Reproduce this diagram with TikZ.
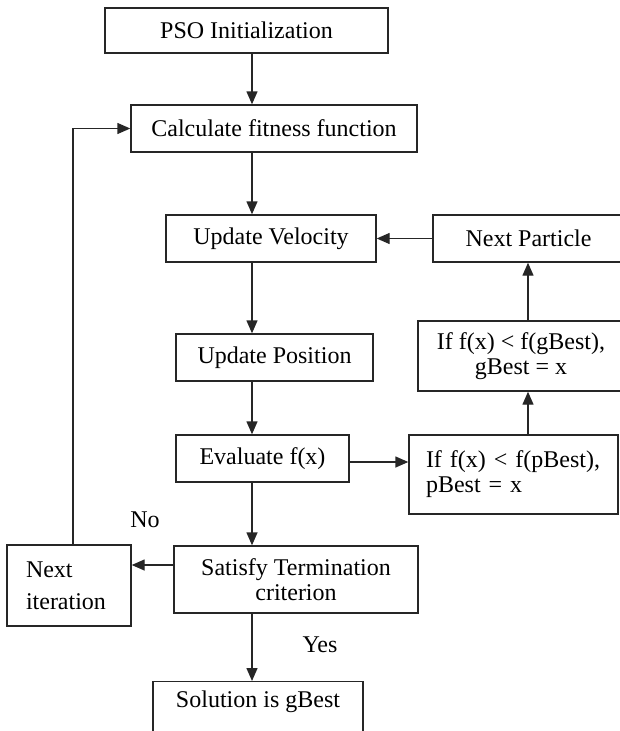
\documentclass[tikz,border=0pt]{standalone}
\usepackage{fontspec}
\setmainfont{Liberation Serif}
\usetikzlibrary{arrows.meta}
\begin{document}
\begin{tikzpicture}[x=1pt,y=-1pt,
  box/.style={draw=black!85, line width=1.4pt, rectangle, inner sep=0pt,
              align=center, font=\fontsize{24}{25}\selectfont},
  flow/.style={draw=black!85, line width=1.4pt, -{Triangle[length=13pt,width=11pt]}},
  lbl/.style={font=\fontsize{24}{25}\selectfont, inner sep=0pt}]
\useasboundingbox (0,0) rectangle (620,731);

% guide coordinates for the vertical connectors
\coordinate (spine) at (252,0);
\coordinate (loopx) at (73,0);
\coordinate (rightx) at (528,0);
\coordinate (evy) at (0,462);
\coordinate (noy) at (0,565);

% boxes
\node[box, minimum width=283, minimum height=45] (pso) at (246.5,30.5) {PSO Initialization};
\node[box, minimum width=286, minimum height=47] (calc) at (274,128.5) {Calculate fitness function};
\node[box, minimum width=210, minimum height=47] (vel) at (271,238.5) {Update Velocity};
\node[box, minimum width=191, minimum height=47] (np) at (528.5,238.5) {Next Particle};
\node[box, minimum width=206, minimum height=70] (gb) at (521,356) {If f(x) < f(gBest),\\ gBest = x};
\node[box, minimum width=197, minimum height=47] (pos) at (274.5,357.5) {Update Position};
\node[box, minimum width=173, minimum height=47] (ev) at (262.5,458.5) {Evaluate f(x)};
\node[box, minimum width=209, minimum height=79, text width=175, align=left] (pb) at (513.5,474.5) {If f(x) < f(pBest),\\ pBest = x};
\node[box, minimum width=244, minimum height=67] (sat) at (296,579.5) {Satisfy Termination\\ criterion};
\node[box, minimum width=124, minimum height=81, text width=86, align=left] (ni) at (69,585.5) {Next\\[7pt] iteration};
\node[box, minimum width=210, anchor=north, inner xsep=0pt, inner ysep=10pt,
      text height=16pt, text depth=60pt] (sol) at (258,681) {Solution is gBest};

% branch labels
\node[lbl] (no) at (145,520) {No};
\node[lbl] (yes) at (320,645) {Yes};

% connectors
\draw[flow] (pso.south -| spine) -- (calc.north -| spine);
\draw[flow] (calc.south -| spine) -- (vel.north -| spine);
\draw[flow] (vel.south -| spine) -- (pos.north -| spine);
\draw[flow] (pos.south -| spine) -- (ev.north -| spine);
\draw[flow] (ev.south -| spine) -- (sat.north -| spine);
\draw[flow] (sat.south -| spine) -- (sol.north -| spine);
\draw[flow] (ev.east |- evy) -- (pb.west |- evy);
\draw[flow] (pb.north -| rightx) -- (gb.south -| rightx);
\draw[flow] (gb.north -| rightx) -- (np.south -| rightx);
\draw[flow] (np.west) -- (vel.east);
\draw[flow] (sat.west |- noy) -- (ni.east |- noy);
\draw[flow] (ni.north -| loopx) |- (calc.west);
\end{tikzpicture}
\end{document}
